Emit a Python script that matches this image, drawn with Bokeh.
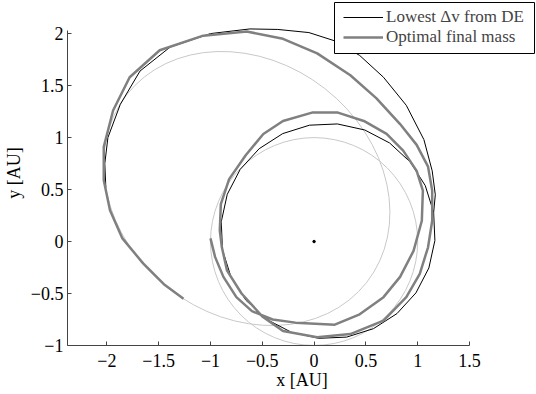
from bokeh.plotting import figure
from bokeh.models import (Range1d, FixedTicker, CustomJSTickFormatter, Legend,
                          LegendItem, BoxAnnotation)
from bokeh.embed import file_html
from bokeh.resources import INLINE
import math

# ---- data ----
x_ticks = [-2, -1.5, -1, -0.5, 0, 0.5, 1, 1.5]
y_ticks = [-1, -0.5, 0, 0.5, 1, 1.5, 2]
x_axis_span = (-2.38, 1.5)
y_axis_span = (-1.0, 2.03)

# planet orbits (light gray): centre, full width/height [AU], tilt [deg]
orbit_x = [0.0, -0.65]
orbit_y = [0.0, 0.51]
orbit_w = [2.0, 2.94]
orbit_h = [2.0, 2.44]
orbit_tilt = [0.0, -38.0]

# Lowest dv from DE (thin black)
de_x = [1.154, 1.073, 0.928, 0.729, 0.489, 0.225, -0.045, -0.303, -0.530, -0.713,
        -0.838, -0.896, -0.884, -0.803, -0.658, -0.459, -0.219, 0.045, 0.315, 0.573,
        0.800, 0.983, 1.108, 1.166, 1.154,
        1.17, 1.14, 1.06, 0.89, 0.67, 0.44, 0.20, -0.05, -0.35, -0.62,
        -1.00, -1.39, -1.68, -1.87, -1.99, -2.02, -2.01]
de_y = [0.280, 0.538, 0.765, 0.948, 1.073, 1.131, 1.119, 1.038, 0.893, 0.694,
        0.454, 0.190, -0.080, -0.338, -0.565, -0.748, -0.873, -0.931, -0.919, -0.838,
        -0.693, -0.494, -0.254, 0.010, 0.280,
        0.45, 0.68, 0.98, 1.31, 1.58, 1.79, 1.93, 2.01, 2.04, 2.045,
        2.00, 1.87, 1.64, 1.32, 1.00, 0.75, 0.52]

# Optimal final mass (thick gray)
opt_x = [-1.00, -0.955, -0.875, -0.75, -0.60, -0.40, -0.18, 0.20, 0.44, 0.67,
         0.83, 0.96, 1.04, 1.05, 0.99, 0.86, 0.70, 0.48, 0.23, -0.02,
         -0.30, -0.49, -0.66, -0.82, -0.90, -0.91, -0.89, -0.84, -0.70, -0.50,
         -0.30, 0.03, 0.35, 0.67, 0.89, 1.02, 1.10, 1.14, 1.14, 1.10,
         0.99, 0.83, 0.60, 0.35, 0.03, -0.30, -0.65, -1.07, -1.49, -1.78,
         -1.94, -2.03, -2.03, -1.97, -1.85, -1.65, -1.45, -1.26]
opt_y = [0.03, -0.15, -0.34, -0.535, -0.67, -0.75, -0.78, -0.80, -0.70, -0.535,
         -0.34, -0.09, 0.20, 0.49, 0.68, 0.875, 1.035, 1.16, 1.24, 1.24,
         1.16, 1.035, 0.83, 0.60, 0.36, 0.105, -0.055, -0.28, -0.50, -0.72,
         -0.86, -0.92, -0.89, -0.76, -0.535, -0.31, -0.055, 0.20, 0.49, 0.72,
         0.93, 1.13, 1.38, 1.60, 1.81, 1.95, 2.02, 1.98, 1.84, 1.58,
         1.26, 0.91, 0.59, 0.30, 0.03, -0.21, -0.41, -0.55]

sun_x = [0.0]
sun_y = [0.0]

legend_labels = ["Lowest \u0394v from DE", "Optimal final mass"]

FONT = "Liberation Serif"
W, H = 536, 394
LEFT, BOTTOM = 67, 49
FB = H - BOTTOM  # frame bottom in canvas pixels
# the drawing frame reaches the right and top edges so the legend is not clipped;
# the axis lines stop at the data box through `bounds`
x_hi = 1.5 + 67 / 103.6
y_hi = 2.03 + 30 / 104.0

p = figure(width=W, height=H, output_backend="svg", toolbar_location=None,
           x_range=Range1d(-2.38, x_hi), y_range=Range1d(-1.0, y_hi),
           min_border_left=LEFT, min_border_right=0, min_border_top=0,
           min_border_bottom=BOTTOM)
p.xgrid.visible = False
p.ygrid.visible = False
p.outline_line_color = None
p.background_fill_color = "white"

fmt = CustomJSTickFormatter(code="return tick < 0 ? '\\u2212' + String(-tick) : String(tick);")
for ax, ticks, lab, span in ((p.xaxis[0], x_ticks, "x [AU]", x_axis_span),
                             (p.yaxis[0], y_ticks, "y [AU]", y_axis_span)):
    ax.ticker = FixedTicker(ticks=ticks)
    ax.formatter = fmt
    ax.bounds = span
    ax.axis_label = lab
    ax.major_tick_in = 4
    ax.major_tick_out = 0
    ax.minor_tick_in = 0
    ax.minor_tick_out = 0
    ax.axis_line_color = "#444444"
    ax.major_tick_line_color = "#444444"
    ax.major_label_text_font = FONT
    ax.major_label_text_font_size = "18px"
    ax.major_label_text_color = "black"
    ax.axis_label_text_font = FONT
    ax.axis_label_text_font_size = "18px"
    ax.axis_label_text_font_style = "normal"
    ax.axis_label_text_color = "black"
p.xaxis[0].major_label_standoff = 8
p.xaxis[0].axis_label_standoff = 0
p.yaxis[0].major_label_standoff = 4
p.yaxis[0].axis_label_standoff = 4

p.ellipse(x=orbit_x, y=orbit_y, width=orbit_w, height=orbit_h,
          angle=[math.radians(a) for a in orbit_tilt],
          fill_color=None, line_color="#c8c8c8", line_width=1)
r_de = p.line(de_x, de_y, line_color="black", line_width=1)
r_opt = p.line(opt_x, opt_y, line_color="#808080", line_width=2.5)
p.scatter(sun_x, sun_y, size=2.5, color="black")

# legend frame (screen units relative to the plot frame)
box = BoxAnnotation(left=334 - LEFT, right=534 - LEFT, bottom=FB - 53, top=FB - 2,
                    left_units="screen", right_units="screen",
                    bottom_units="screen", top_units="screen",
                    fill_color="white", fill_alpha=1.0,
                    line_color="black", line_width=1, line_alpha=1.0)
p.add_layout(box)

for lab, rend, row_bottom in ((legend_labels[0], r_de, 26.5),
                              (legend_labels[1], r_opt, 47.0)):
    lg = Legend(items=[LegendItem(label=lab, renderers=[rend])],
                location=(343 - LEFT, FB - row_bottom))
    lg.border_line_color = None
    lg.background_fill_alpha = 0.0
    lg.label_text_font = FONT
    lg.label_text_font_size = "17px"
    lg.glyph_width = 40
    lg.glyph_height = 14
    lg.label_height = 14
    lg.label_standoff = 3
    lg.spacing = 0
    lg.padding = 0
    lg.margin = 0
    p.add_layout(lg)

open("out.html", "w").write(file_html(p, INLINE))
